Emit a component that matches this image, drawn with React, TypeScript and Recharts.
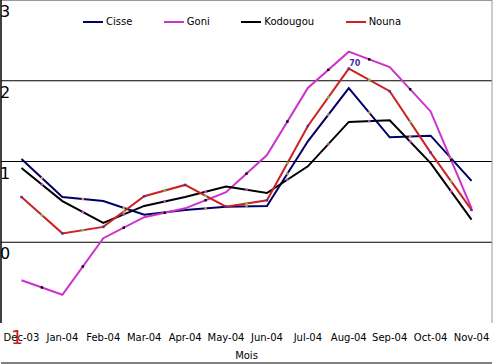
import React from 'react';
import { LineChart, Line, XAxis, YAxis, ReferenceLine, Legend } from 'recharts';

const months = ['Dec-03', 'Jan-04', 'Feb-04', 'Mar-04', 'Apr-04', 'May-04', 'Jun-04', 'Jul-04', 'Aug-04', 'Sep-04', 'Oct-04', 'Nov-04'];
const cisse = [1.03, 0.56, 0.51, 0.34, 0.40, 0.44, 0.45, 1.25, 1.91, 1.30, 1.32, 0.76];
const goni = [-0.47, -0.65, 0.05, 0.31, 0.42, 0.62, 1.08, 1.91, 2.36, 2.17, 1.62, 0.42];
const kodougou = [0.92, 0.51, 0.24, 0.45, 0.56, 0.69, 0.61, 0.94, 1.49, 1.51, 0.98, 0.28];
const nouna = [0.56, 0.11, 0.19, 0.57, 0.71, 0.44, 0.52, 1.44, 2.15, 1.87, 1.11, 0.40];
const nounaLabels = ['', '', '', '', '', '', '', '', '70', '', '', ''];
const yTicks = [3, 2, 1, 0, -1];
const gridValues = [2, 1, 0];

const FONT = '"DejaVu Sans", sans-serif';
const C_CISSE = '#000066';
const C_GONI = '#cc33cc';
const C_KOD = '#000000';
const C_NOUNA = '#cc2222';

const data = months.map((m, i) => ({
  idx: i,
  month: m,
  Cisse: cisse[i],
  Goni: goni[i],
  Kodougou: kodougou[i],
  Nouna: nouna[i],
}));

const monthTicks = months.map((_, i) => i);
const boundaryTicks = months.map((_, i) => i - 0.5).concat([months.length - 0.5]);
const xDomain: [number, number] = [-0.5, months.length - 0.5];

const prevPts: Record<string, { x: number; y: number } | null> = {};

function makeDot(key: string, midColor: string, vertexColor?: string, labels?: string[]) {
  return (props: any) => {
    const { cx, cy, index } = props;
    const prev = index === 0 ? null : prevPts[key];
    prevPts[key] = { x: cx, y: cy };
    const lbl = labels ? labels[index] : '';
    return (
      <g key={`${key}-dot-${index}`}>
        {prev && (
          <rect x={(prev.x + cx) / 2 - 1.2} y={(prev.y + cy) / 2 - 1.2} width={2.4} height={2.4} fill={midColor} />
        )}
        {vertexColor && <rect x={cx - 1.2} y={cy - 1.2} width={2.4} height={2.4} fill={vertexColor} />}
        {lbl && (
          <text x={cx + 6} y={cy - 2.5} textAnchor="middle" fontSize={8} fontWeight="bold" fontFamily={FONT} fill="#4433aa">
            {lbl}
          </text>
        )}
      </g>
    );
  };
}

const XTick = (props: any) => {
  const { x, y, payload } = props;
  return (
    <text x={x} y={y} dy={10} textAnchor="middle" fontSize={10} fontFamily={FONT} fill="#000">
      {months[payload.value]}
    </text>
  );
};

const YTick = (props: any) => {
  const { x, y, payload } = props;
  if (payload.value === -1) {
    return (
      <text x={x + 10} y={y + 21} fontSize={19} fontFamily={FONT} fill={C_NOUNA}>
        1
      </text>
    );
  }
  return (
    <text x={x - 1} y={y + 17} fontSize={16} fontFamily={FONT} fill="#000">
      {payload.value}
    </text>
  );
};

const renderLegend = (props: any) => {
  const { payload } = props;
  return (
    <div style={{ display: 'flex', alignItems: 'center', fontFamily: FONT, fontSize: 10, color: '#000', whiteSpace: 'nowrap' }}>
      {payload.map((p: any) => (
        <div key={p.value} style={{ display: 'flex', alignItems: 'center', marginRight: 31.5 }}>
          <span style={{ display: 'inline-block', width: 20, height: 2, background: p.color, marginRight: 3 }} />
          <span>{p.value}</span>
        </div>
      ))}
    </div>
  );
};

export default function App() {
  return (
    <div style={{ position: 'absolute', left: 0, top: 0, width: 494, height: 364, background: '#fff' }}>
      <LineChart width={494} height={364} data={data} margin={{ top: 0, right: 2, bottom: 0, left: 0 }}>
        <XAxis
          xAxisId="b"
          dataKey="idx"
          type="number"
          domain={xDomain}
          ticks={boundaryTicks}
          interval={0}
          height={1}
          axisLine={{ stroke: '#000' }}
          tickSize={5}
          tickLine={{ stroke: '#000' }}
          tick={false}
          allowDataOverflow
        />
        <XAxis
          dataKey="idx"
          type="number"
          domain={xDomain}
          ticks={monthTicks}
          interval={0}
          height={40}
          axisLine={false}
          tickLine={false}
          tick={<XTick />}
          allowDataOverflow
          label={{ value: 'Mois', position: 'insideBottom', offset: 4, fill: '#000', fontSize: 10, fontFamily: FONT }}
        />
        <YAxis
          domain={[-1, 3]}
          ticks={yTicks}
          interval={0}
          width={1}
          axisLine={{ stroke: '#000', strokeWidth: 1.5 }}
          tickLine={false}
          tickSize={0}
          tickMargin={0}
          tick={<YTick />}
          allowDataOverflow
        />
        {gridValues.map((v) => (
          <ReferenceLine key={`g${v}`} y={v} stroke="#000" strokeWidth={1} />
        ))}
        <ReferenceLine y={3} stroke="#999" strokeWidth={2} />
        <ReferenceLine x={xDomain[1]} stroke="#999" strokeWidth={1} />
        <Legend
          verticalAlign="middle"
          align="center"
          layout="horizontal"
          content={renderLegend}
          wrapperStyle={{ top: 16, left: 83, width: 'auto', height: 'auto' }}
        />
        <Line type="linear" dataKey="Cisse" stroke={C_CISSE} strokeWidth={2} dot={makeDot('Cisse', '#cc9955')} activeDot={false} isAnimationActive={false} />
        <Line type="linear" dataKey="Goni" stroke={C_GONI} strokeWidth={2} dot={makeDot('Goni', '#000000')} activeDot={false} isAnimationActive={false} />
        <Line type="linear" dataKey="Kodougou" stroke={C_KOD} strokeWidth={2} dot={makeDot('Kodougou', '#cc44cc')} activeDot={false} isAnimationActive={false} />
        <Line type="linear" dataKey="Nouna" stroke={C_NOUNA} strokeWidth={2} dot={makeDot('Nouna', '#66cc66', '#5030a0', nounaLabels)} activeDot={false} isAnimationActive={false} />
      </LineChart>
    </div>
  );
}
